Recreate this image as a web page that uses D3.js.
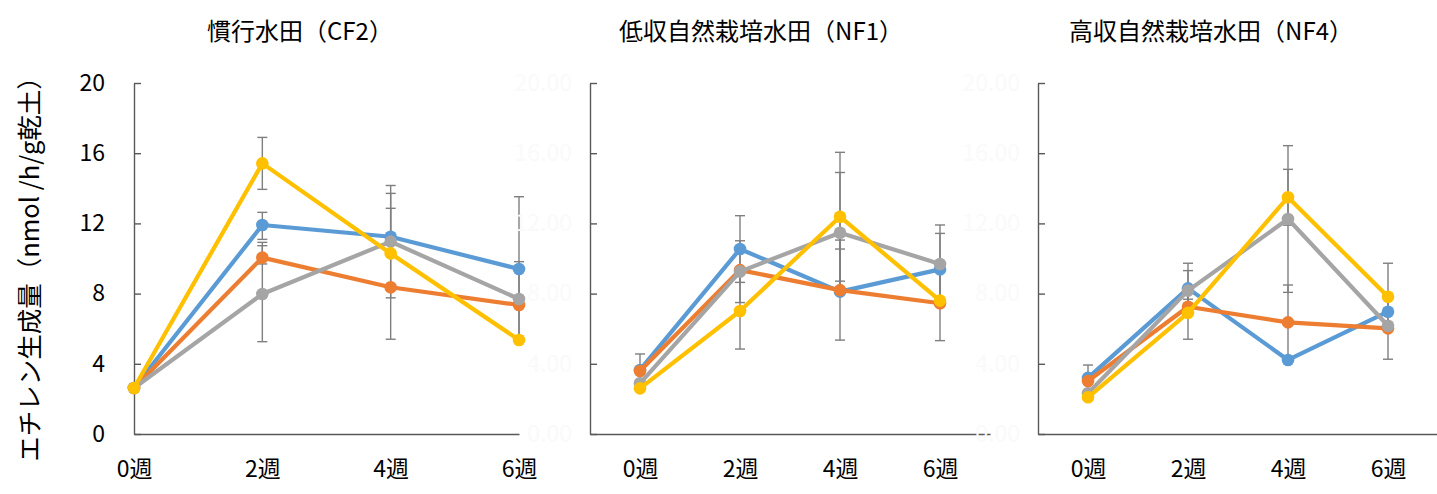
<!DOCTYPE html>
<html>
<head>
<meta charset="utf-8">
<script src="https://cdn.jsdelivr.net/npm/d3@7"></script>
<style>
  html, body { margin: 0; padding: 0; background: #fff; }
  svg { display: block; font-family: "Noto Sans CJK JP", "Noto Sans", sans-serif; }
</style>
</head>
<body>
<svg id="chart" width="1437" height="494"></svg>
<script>
// Sampling weeks and panel titles
const weeks = ["0週", "2週", "4週", "6週"];
const panelTitles = ["慣行水田（CF2）", "低収自然栽培水田（NF1）", "高収自然栽培水田（NF4）"];
const yTicks = [0, 4, 8, 12, 16, 20];
const yLabel = "エチレン生成量（nmol /h/g乾土）";

// Ethylene production per series (4 series per field), values by week
const cf2Means = [
  [2.62, 11.91, 11.24, 9.40],
  [2.62, 10.05, 8.36, 7.35],
  [2.62, 7.98, 10.96, 7.69],
  [2.62, 15.42, 10.29, 5.36]
];
const cf2ErrUp = [
  [0, 0.72, 1.62, 4.12],
  [0, 0.87, 2.96, 0],
  [0, 2.75, 3.20, 2.13],
  [0, 1.48, 3.42, 0]
];
const cf2ErrDown = [
  [0, 0.82, 0, 4.12],
  [0, 0.36, 2.96, 0],
  [0, 2.72, 3.20, 2.13],
  [0, 1.48, 0, 0]
];

const nf1Means = [
  [3.65, 10.54, 8.11, 9.38],
  [3.59, 9.34, 8.20, 7.45],
  [2.89, 9.25, 11.47, 9.69],
  [2.60, 7.01, 12.38, 7.60]
];
const nf1ErrUp = [
  [0, 1.90, 2.43, 2.05],
  [0.97, 0, 2.85, 2.13],
  [0, 1.76, 3.43, 2.22],
  [0, 2.17, 3.67, 0]
];
const nf1ErrDown = [
  [0, 1.90, 0, 2.05],
  [0.97, 0, 2.85, 2.13],
  [0, 1.76, 3.43, 2.22],
  [0, 2.17, 3.67, 0]
];

const nf4Means = [
  [3.20, 8.30, 4.22, 6.97],
  [3.02, 7.25, 6.36, 6.02],
  [2.32, 8.17, 12.25, 6.17],
  [2.09, 6.90, 13.49, 7.82]
];
const nf4ErrUp = [
  [0, 1.43, 0, 0],
  [0.91, 0.43, 2.13, 1.76],
  [0, 1.14, 4.18, 0],
  [0, 1.50, 1.59, 1.91]
];
const nf4ErrDown = [
  [0, 1.43, 0, 0],
  [0.91, 0.43, 2.13, 1.76],
  [0, 1.14, 4.18, 0],
  [0, 1.50, 1.59, 1.91]
];

// ---- drawing ----
const seriesColors = ["#5b9bd5", "#ed7d31", "#a5a5a5", "#ffc000"];
const axisColor = "#595959";
const errColor = "#7f7f7f";

const svg = d3.select("#chart");

const panels = [
  { means: cf2Means, up: cf2ErrUp, down: cf2ErrDown, x0: 134, x1: 519, pad: 0,
    fmt: d3.format("d"), tickColor: "#000", labelPad: 29, titleX: 300 },
  { means: nf1Means, up: nf1ErrUp, down: nf1ErrDown, x0: 590, x1: 990, pad: 0.5,
    fmt: d3.format(".2f"), tickColor: "#fafafa", labelPad: 18, titleX: 761 },
  { means: nf4Means, up: nf4ErrUp, down: nf4ErrDown, x0: 1038, x1: 1438, pad: 0.5,
    fmt: d3.format(".2f"), tickColor: "#fafafa", labelPad: 18, titleX: 1211 }
];

const yTop = 83, yBottom = 434;
const y = d3.scaleLinear().domain([0, 20]).range([yBottom, yTop]);

panels.forEach((p, pi) => {
  const x = d3.scalePoint().domain(weeks).range([p.x0, p.x1]).padding(p.pad);
  const g = svg.append("g");

  // title
  g.append("text")
    .attr("x", p.titleX).attr("y", 40)
    .attr("text-anchor", "middle")
    .attr("font-size", 24).attr("fill", "#000")
    .text(panelTitles[pi]);

  // y axis (ticks point inward)
  const yAxis = d3.axisLeft(y).tickValues(yTicks).tickFormat(p.fmt)
    .tickSizeInner(-7).tickSizeOuter(0).tickPadding(p.labelPad);
  const ya = g.append("g").attr("transform", `translate(${p.x0},0)`).call(yAxis);
  ya.select(".domain").attr("stroke", axisColor).attr("stroke-width", 1.4);
  ya.selectAll(".tick line").attr("stroke", axisColor).attr("stroke-width", 1.4);
  ya.selectAll(".tick text").attr("fill", p.tickColor)
    .attr("font-size", 23).attr("font-family", "Noto Sans CJK JP");

  // x axis
  const xAxis = d3.axisBottom(x).tickSize(0).tickPadding(27);
  const xa = g.append("g").attr("transform", `translate(0,${yBottom})`).call(xAxis);
  xa.select(".domain").attr("stroke", axisColor).attr("stroke-width", 1.4);
  xa.selectAll(".tick text").attr("fill", "#000")
    .attr("font-size", 23).attr("font-family", "Noto Sans CJK JP");

  // error bars
  const eg = g.append("g").attr("stroke", errColor).attr("stroke-width", 1.4);
  p.means.forEach((vals, si) => {
    vals.forEach((v, wi) => {
      const up = p.up[si][wi], dn = p.down[si][wi];
      if (!up && !dn) return;
      const cx = x(weeks[wi]);
      eg.append("line").attr("x1", cx).attr("x2", cx)
        .attr("y1", y(v + up)).attr("y2", y(v - dn));
      if (up) eg.append("line").attr("x1", cx - 5).attr("x2", cx + 5)
        .attr("y1", y(v + up)).attr("y2", y(v + up));
      if (dn) eg.append("line").attr("x1", cx - 5).attr("x2", cx + 5)
        .attr("y1", y(v - dn)).attr("y2", y(v - dn));
    });
  });

  // series lines and markers
  const line = d3.line().x((d, i) => x(weeks[i])).y(d => y(d));
  p.means.forEach((vals, si) => {
    const sg = g.append("g");
    sg.append("path").datum(vals)
      .attr("d", line).attr("fill", "none")
      .attr("stroke", seriesColors[si]).attr("stroke-width", 4.2)
      .attr("stroke-linejoin", "round");
    sg.selectAll("circle").data(vals).enter().append("circle")
      .attr("cx", (d, i) => x(weeks[i])).attr("cy", d => y(d))
      .attr("r", 6.3).attr("fill", seriesColors[si]);
  });
});

// shared y-axis title
svg.append("text")
  .attr("transform", "translate(39,263) rotate(-90)")
  .attr("text-anchor", "middle")
  .attr("font-size", 25.5).attr("fill", "#000")
  .text(yLabel);
</script>
</body>
</html>
